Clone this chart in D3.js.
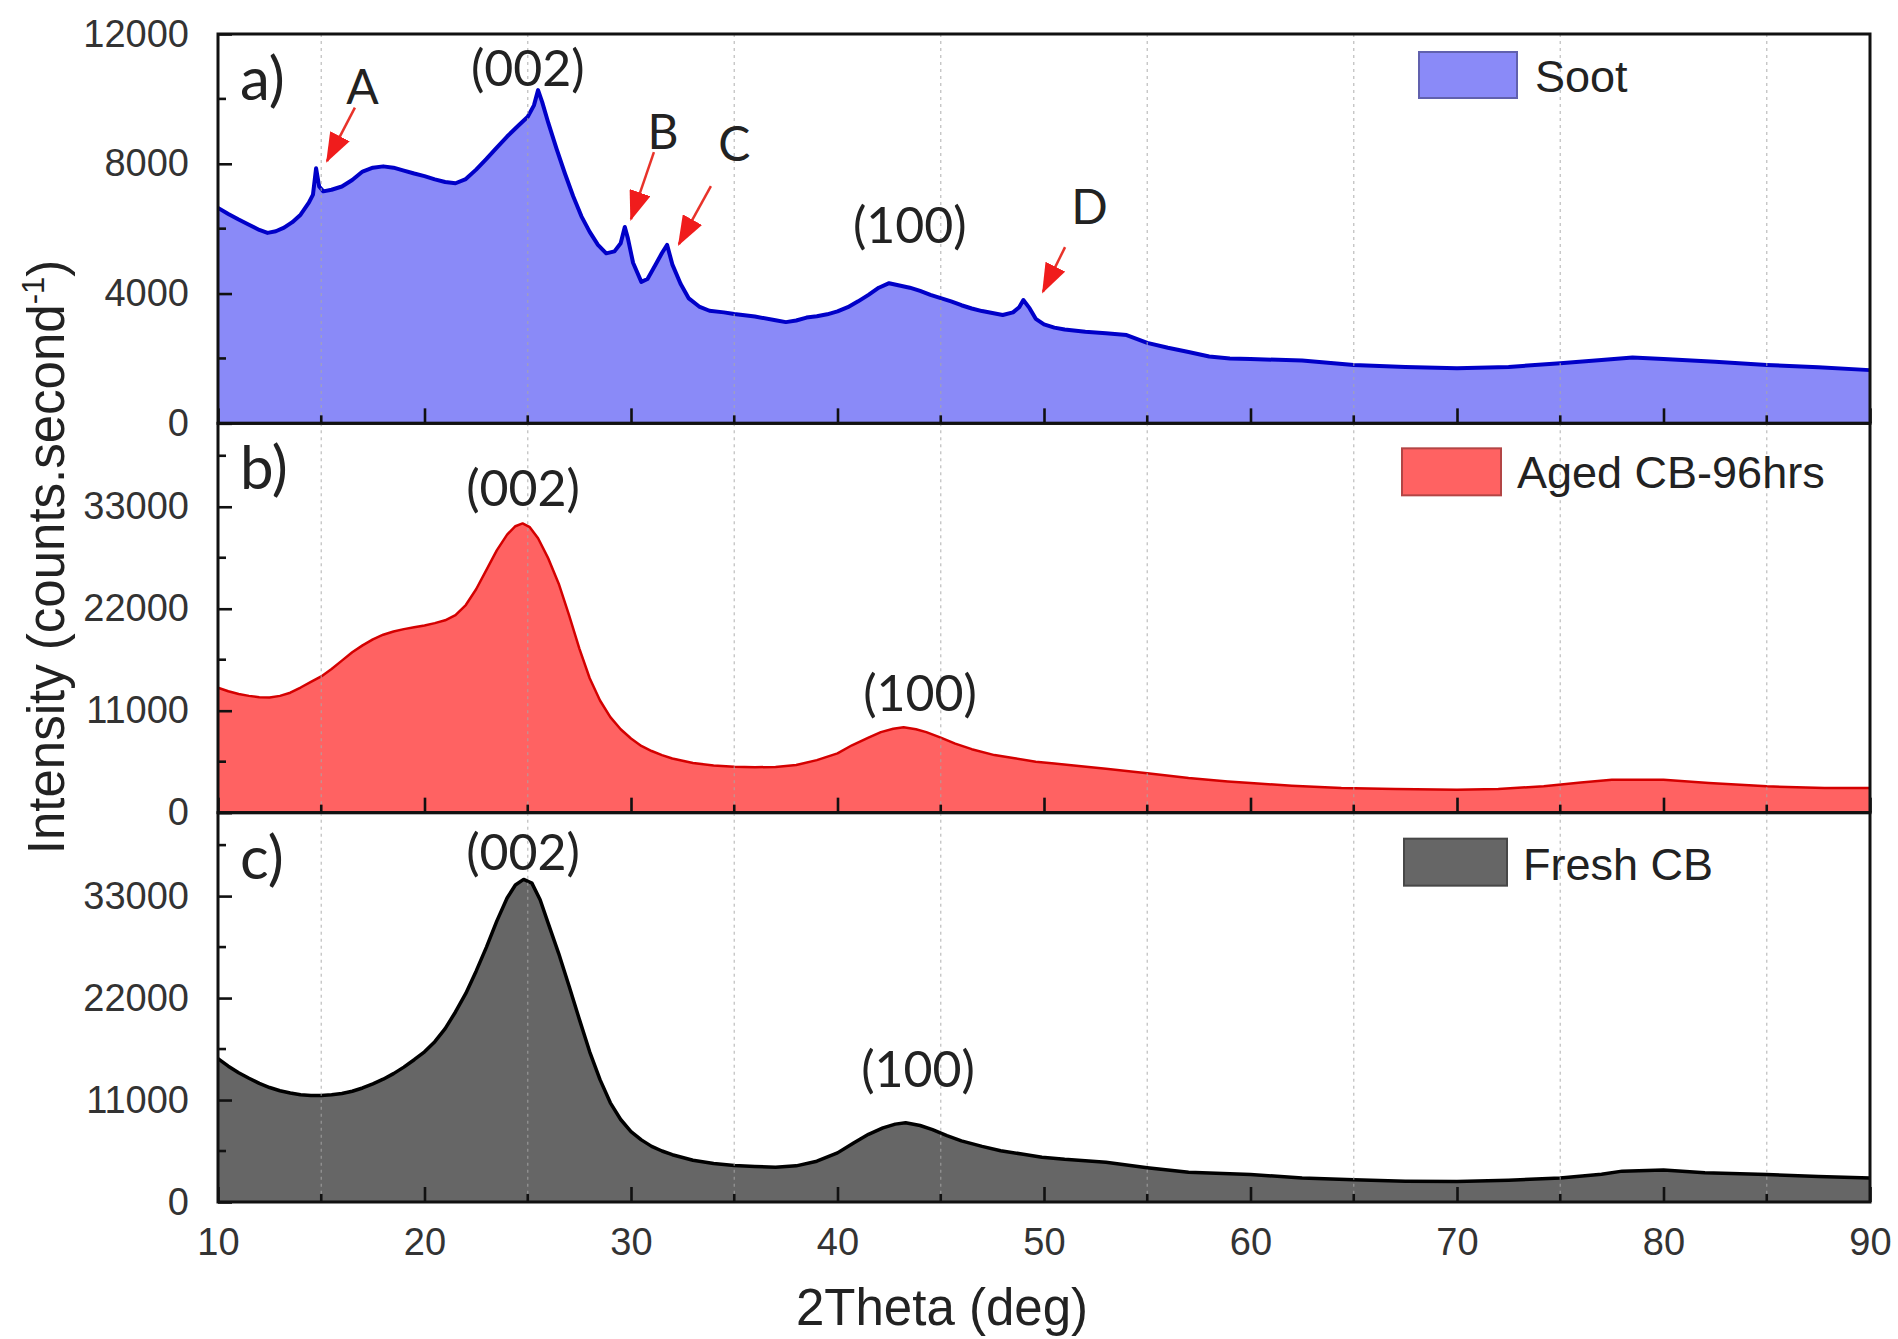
<!DOCTYPE html>
<html>
<head>
<meta charset="utf-8">
<script src="https://cdn.jsdelivr.net/npm/d3@7"></script>
<style>
  body { margin: 0; background: #fff; }
  svg { display: block; }
</style>
</head>
<body>
<div id="chart"></div>
<script>
// XRD patterns: [2theta (deg), intensity (counts/s)]
const sootData = [
  [10.0,6640],[10.5,6450],[11.0,6280],[11.5,6120],[12.0,5960],[12.4,5870],[12.8,5920],[13.2,6030],
  [13.6,6200],[14.0,6430],[14.4,6800],[14.6,7050],[14.75,7860],[14.9,7300],[15.1,7150],[15.5,7200],
  [16.0,7300],[16.5,7500],[17.0,7760],[17.5,7880],[18.0,7920],[18.5,7880],[19.0,7790],[19.5,7700],
  [20.0,7620],[20.5,7520],[21.0,7440],[21.5,7400],[22.0,7530],[22.5,7820],[23.0,8150],[23.5,8500],
  [24.0,8840],[24.5,9150],[25.0,9450],[25.3,9800],[25.5,10270],[25.7,9900],[26.0,9250],[26.4,8450],
  [26.8,7700],[27.2,7000],[27.6,6380],[28.0,5900],[28.4,5500],[28.8,5240],[29.2,5300],[29.5,5550],
  [29.7,6050],[29.85,5700],[30.1,4950],[30.5,4360],[30.8,4450],[31.2,4900],[31.5,5250],[31.75,5500],
  [32.0,4900],[32.4,4300],[32.8,3850],[33.3,3600],[33.8,3470],[34.5,3420],[35.0,3370],[36.0,3290],
  [37.0,3180],[37.5,3120],[38.0,3170],[38.5,3260],[39.0,3300],[39.5,3360],[40.0,3450],[40.5,3580],
  [41.0,3760],[41.5,3960],[42.0,4180],[42.5,4320],[43.0,4250],[43.5,4180],[44.0,4080],[44.5,3960],
  [45.0,3860],[45.5,3760],[46.0,3640],[46.5,3540],[47.0,3460],[47.5,3400],[48.0,3340],[48.5,3420],
  [48.8,3580],[49.0,3800],[49.3,3550],[49.6,3220],[50.0,3050],[50.5,2950],[51.0,2890],[52.0,2820],
  [53.0,2780],[54.0,2720],[55.0,2480],[56.0,2330],[57.0,2200],[58.0,2060],[59.0,2000],[60.0,1980],
  [62.5,1940],[65.0,1800],[67.5,1740],[70.0,1700],[72.5,1740],[75.0,1850],[77.0,1950],[78.5,2030],
  [80.0,1980],[82.5,1900],[85.0,1800],[87.5,1730],[90.0,1640]
];

const agedData = [
  [10.0,13480],[10.5,13100],[11.0,12800],[11.5,12600],[12.0,12450],[12.5,12420],[13.0,12600],[13.5,12940],
  [14.0,13500],[14.5,14100],[15.0,14700],[15.5,15500],[16.0,16400],[16.5,17300],[17.0,18050],[17.5,18700],
  [18.0,19200],[18.5,19550],[19.0,19800],[19.5,20000],[20.0,20200],[20.5,20450],[21.0,20750],[21.5,21300],
  [22.0,22400],[22.5,24100],[23.0,26200],[23.5,28300],[24.0,30000],[24.4,30900],[24.75,31200],[25.1,30800],
  [25.5,29600],[26.0,27400],[26.5,24700],[27.0,21300],[27.5,17700],[28.0,14500],[28.5,12100],[29.0,10300],
  [29.5,9000],[30.0,8000],[30.5,7200],[31.0,6650],[31.5,6210],[32.0,5850],[33.0,5350],[34.0,5100],
  [35.0,4960],[36.0,4900],[37.0,4930],[38.0,5150],[39.0,5670],[40.0,6400],[40.7,7270],[41.5,8100],
  [42.1,8690],[42.7,9050],[43.2,9220],[43.8,9000],[44.3,8690],[45.0,8100],[45.7,7450],[46.5,6850],
  [47.6,6210],[48.5,5900],[49.6,5500],[50.5,5300],[51.8,5000],[53.0,4750],[55.0,4260],[57.0,3750],
  [58.9,3370],[60.0,3190],[62.0,2900],[64.4,2660],[67.0,2550],[70.0,2480],[72.0,2560],[74.2,2840],
  [76.0,3250],[77.5,3550],[80.0,3550],[82.2,3190],[85.0,2840],[87.8,2660],[90.0,2660]
];

const freshData = [
  [10.0,15460],[10.5,14650],[11.0,13950],[11.5,13350],[12.0,12800],[12.5,12350],[13.0,12000],[13.5,11750],
  [14.0,11560],[14.5,11480],[15.0,11480],[15.5,11560],[16.0,11700],[16.5,11950],[17.0,12300],[17.5,12750],
  [18.0,13250],[18.5,13850],[19.0,14550],[19.5,15350],[20.0,16200],[20.5,17300],[21.0,18700],[21.5,20500],
  [22.0,22500],[22.5,24900],[23.0,27500],[23.5,30300],[24.0,32800],[24.4,34200],[24.8,34800],[25.2,34400],
  [25.6,32600],[26.0,30000],[26.5,26800],[27.0,23300],[27.5,19700],[28.0,16200],[28.5,13200],[29.0,10700],
  [29.5,8900],[30.0,7600],[30.5,6700],[31.0,6000],[31.5,5500],[32.0,5100],[33.0,4500],[34.0,4150],
  [35.0,3940],[36.0,3830],[37.0,3760],[38.0,3900],[39.0,4400],[40.0,5300],[40.8,6400],[41.5,7300],
  [42.2,8000],[42.8,8400],[43.3,8550],[44.0,8250],[44.6,7800],[45.3,7150],[46.0,6600],[47.0,6000],
  [47.9,5530],[49.0,5150],[49.9,4820],[51.0,4600],[52.0,4450],[53.0,4290],[55.0,3700],[57.0,3200],
  [60.0,2960],[62.5,2600],[65.0,2400],[67.5,2250],[70.0,2220],[72.5,2350],[75.0,2590],[77.0,3000],
  [78.0,3330],[80.0,3450],[82.0,3150],[85.0,2960],[87.5,2750],[90.0,2590]
];

const seriesNames = ["Soot", "Aged CB-96hrs", "Fresh CB"];
const panelTags = ["a)", "b)", "c)"];

const thetaTicks = [10, 20, 30, 40, 50, 60, 70, 80, 90];
const thetaMinor = [15, 25, 35, 45, 55, 65, 75, 85];
const sootTicks = [0, 4000, 8000, 12000];
const sootMinor = [2000, 6000, 10000];
const cbTicks = [0, 11000, 22000, 33000];
const cbMinor = [5500, 16500, 27500, 38500];

// peak labels, in data coordinates of each panel
const sootNotes = [
  {t: "(002)", x: 25.0, y: 10400}, {t: "(100)", x: 43.5, y: 5550},
  {t: "A", x: 17.0, y: 9840}, {t: "B", x: 31.55, y: 8450},
  {t: "C", x: 35.0, y: 8080}, {t: "D", x: 52.2, y: 6140}
];
const sootArrows = [
  [[16.63, 9733], [15.28, 8083]],
  [[31.11, 8360], [30.0, 6293]],
  [[33.87, 7311], [32.32, 5522]],
  [[51.02, 5430], [49.95, 4057]]
];
const agedNotes = [{t: "(002)", x: 24.77, y: 33060}, {t: "(100)", x: 44.0, y: 10930}];
const freshNotes = [{t: "(002)", x: 24.77, y: 35860}, {t: "(100)", x: 43.9, y: 12390}];

function init() {
    const width = 1898, height = 1339;
    const left = 218, right = 1870, top = 34;
    const panelH = (1202 - top) / 3;

    const svg = d3.select("#chart").append("svg")
                  .attr("width", width)
                  .attr("height", height);

    // red arrow head
    svg.append("defs").append("marker")
       .attr("id", "head")
       .attr("markerUnits", "userSpaceOnUse")
       .attr("viewBox", "0 0 30 22")
       .attr("refX", 28).attr("refY", 11)
       .attr("markerWidth", 30).attr("markerHeight", 22)
       .attr("orient", "auto")
       .append("path")
       .attr("d", "M0,0 L30,11 L0,22 Z")
       .attr("fill", "#f01c1c");

    const x = d3.scaleLinear().domain([10, 90]).range([left, right]);

    const panels = [
        {data: sootData, max: 12000, ticks: sootTicks, minor: sootMinor, fill: "#8a8af8", stroke: "#0000c8", lw: 4,
         notes: sootNotes, arrows: sootArrows, legend: [1419, 18, 98, 46, 1535, 58]},
        {data: agedData, max: 42000, ticks: cbTicks, minor: cbMinor, fill: "#ff6262", stroke: "#d40000", lw: 2.5,
         notes: agedNotes, arrows: [], legend: [1402, 25, 99, 47, 1517, 65]},
        {data: freshData, max: 42000, ticks: cbTicks, minor: cbMinor, fill: "#666666", stroke: "#000000", lw: 3.5,
         notes: freshNotes, arrows: [], legend: [1404, 26, 103, 47, 1523, 67]}
    ];

    panels.forEach((p, i) => {
        const y0 = top + i * panelH;
        const y = d3.scaleLinear().domain([0, p.max]).range([y0 + panelH, y0]);
        const g = svg.append("g");

        const area = d3.area().x(d => x(d[0])).y0(y(0)).y1(d => y(d[1]));
        const line = d3.line().x(d => x(d[0])).y(d => y(d[1]));

        g.append("path").datum(p.data)
         .attr("d", area)
         .attr("fill", p.fill);
        g.append("path").datum(p.data)
         .attr("d", line)
         .attr("fill", "none")
         .attr("stroke", p.stroke)
         .attr("stroke-width", p.lw)
         .attr("stroke-linejoin", "round");

        // dotted vertical grid at the minor positions
        g.selectAll(".grid").data(thetaMinor).enter().append("line")
         .attr("x1", d => x(d)).attr("x2", d => x(d))
         .attr("y1", y0).attr("y2", y0 + panelH)
         .attr("stroke", "#a8a8a8")
         .attr("stroke-opacity", 0.7)
         .attr("stroke-width", 1.3)
         .attr("stroke-dasharray", "3,4");

        // x ticks (inward), labels only on the bottom panel
        const xAxis = d3.axisBottom(x).tickValues(thetaTicks).tickSize(-15).tickPadding(26)
                        .tickFormat(i === 2 ? d3.format("d") : "");
        const gx = g.append("g").attr("transform", `translate(0,${y0 + panelH})`).call(xAxis);
        gx.append("g").selectAll("line").data(thetaMinor).enter().append("line")
          .attr("x1", d => x(d)).attr("x2", d => x(d))
          .attr("y1", 0).attr("y2", -8);

        // y ticks
        const yAxis = d3.axisLeft(y).tickValues(p.ticks).tickSize(-14).tickPadding(29)
                        .tickFormat(d3.format("d"));
        const gy = g.append("g").attr("transform", `translate(${left},0)`).call(yAxis);
        gy.append("g").selectAll("line").data(p.minor).enter().append("line")
          .attr("x1", 0).attr("x2", 8)
          .attr("y1", d => y(d)).attr("y2", d => y(d));

        [gx, gy].forEach(a => {
            a.select(".domain").remove();
            a.selectAll("line").attr("stroke", "#111").attr("stroke-width", 2.6);
            a.selectAll("text")
             .attr("font-family", "'Liberation Sans', Arial, sans-serif")
             .attr("font-size", 38)
             .attr("fill", "#333");
        });

        // frame
        g.append("rect")
         .attr("x", left).attr("y", y0)
         .attr("width", right - left).attr("height", panelH)
         .attr("fill", "none")
         .attr("stroke", "#111")
         .attr("stroke-width", 3);

        // panel tag
        g.append("text")
         .attr("x", 240).attr("y", y0 + 66)
         .attr("font-family", "Lato, 'Open Sans', sans-serif")
         .attr("font-size", 60)
         .attr("fill", "#222")
         .text(panelTags[i]);

        // legend
        const L = p.legend;
        g.append("rect")
         .attr("x", L[0]).attr("y", y0 + L[1])
         .attr("width", L[2]).attr("height", L[3])
         .attr("fill", p.fill)
         .attr("stroke", d3.color(p.fill).darker(1))
         .attr("stroke-width", 2);
        g.append("text")
         .attr("x", L[4]).attr("y", y0 + L[5])
         .attr("font-family", "'Liberation Sans', Arial, sans-serif")
         .attr("font-size", 45)
         .attr("fill", "#222")
         .text(seriesNames[i]);

        // peak labels and arrows
        g.selectAll(".note").data(p.notes).enter().append("text")
         .attr("x", d => x(d.x)).attr("y", d => y(d.y))
         .attr("text-anchor", "middle")
         .attr("font-family", "Lato, 'Open Sans', sans-serif")
         .attr("font-size", d => d.t.length > 1 ? 50 : 48)
         .attr("fill", "#222")
         .text(d => d.t);

        g.selectAll(".arrow").data(p.arrows).enter().append("line")
         .attr("x1", d => x(d[0][0])).attr("y1", d => y(d[0][1]))
         .attr("x2", d => x(d[1][0])).attr("y2", d => y(d[1][1]))
         .attr("stroke", "#e8332a")
         .attr("stroke-width", 2.5)
         .attr("marker-end", "url(#head)");
    });

    // axis titles
    const yTitle = svg.append("text")
       .attr("transform", "translate(46,557) rotate(-90)")
       .attr("dy", "0.35em")
       .attr("text-anchor", "middle")
       .attr("font-family", "'Liberation Sans', Arial, sans-serif")
       .attr("font-size", 51)
       .attr("fill", "#222");
    yTitle.append("tspan").text("Intensity (counts.second");
    yTitle.append("tspan").attr("font-size", 31).attr("dy", -20).text("-1");
    yTitle.append("tspan").attr("dy", 20).text(")");

    svg.append("text")
       .attr("x", 942).attr("y", 1325)
       .attr("text-anchor", "middle")
       .attr("font-family", "'Liberation Sans', Arial, sans-serif")
       .attr("font-size", 51)
       .attr("fill", "#222")
       .text("2Theta (deg)");
}

window.onload = init;
</script>
</body>
</html>
